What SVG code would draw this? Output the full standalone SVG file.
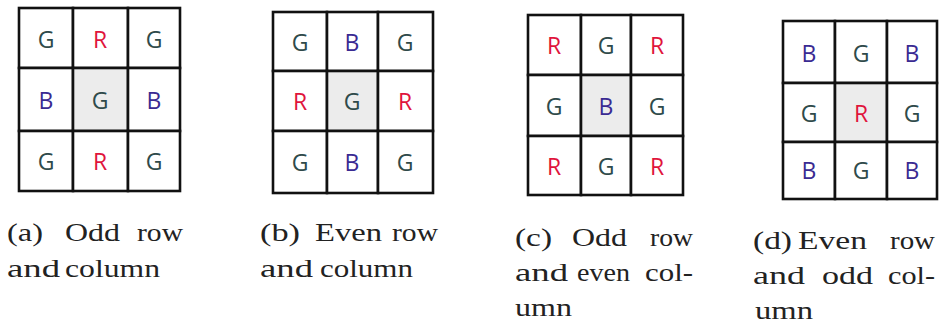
<svg xmlns="http://www.w3.org/2000/svg" width="949" height="327" viewBox="0 0 949 327">
<style>
.c{fill:#ffffff;stroke:#111;stroke-width:2.6}
.m{fill:#ececec;stroke:#111;stroke-width:2.6}
.L{font-family:"Open Sans","Noto Sans",sans-serif;font-size:23px;font-weight:500;text-anchor:middle;dominant-baseline:central}
.G{fill:#2f4a4a}.R{fill:#e0143c}.B{fill:#3a2a92}
.cap{font-family:"Liberation Serif","Times New Roman",serif;font-size:25px;fill:#222}
</style>
<rect width="949" height="327" fill="#ffffff"/>
<g id="grid-a">
<rect class="c" x="19" y="8" width="54" height="60"/><rect class="c" x="73" y="8" width="55" height="60"/><rect class="c" x="128" y="8" width="52" height="60"/>
<rect class="c" x="19" y="68" width="54" height="63"/><rect class="m" x="73" y="68" width="55" height="63"/><rect class="c" x="128" y="68" width="52" height="63"/>
<rect class="c" x="19" y="131" width="54" height="60"/><rect class="c" x="73" y="131" width="55" height="60"/><rect class="c" x="128" y="131" width="52" height="60"/>
<text class="L G" x="46" y="39">G</text><text class="L R" x="100" y="39">R</text><text class="L G" x="154" y="39">G</text>
<text class="L B" x="46" y="100">B</text><text class="L G" x="100" y="100">G</text><text class="L B" x="154" y="100">B</text>
<text class="L G" x="46" y="161">G</text><text class="L R" x="100" y="161">R</text><text class="L G" x="154" y="161">G</text>
</g>
<g id="grid-b">
<rect class="c" x="273" y="12" width="54" height="59"/><rect class="c" x="327" y="12" width="51" height="59"/><rect class="c" x="378" y="12" width="55" height="59"/>
<rect class="c" x="273" y="71" width="54" height="60"/><rect class="m" x="327" y="71" width="51" height="60"/><rect class="c" x="378" y="71" width="55" height="60"/>
<rect class="c" x="273" y="131" width="54" height="62"/><rect class="c" x="327" y="131" width="51" height="62"/><rect class="c" x="378" y="131" width="55" height="62"/>
<text class="L G" x="300" y="42">G</text><text class="L B" x="352" y="42">B</text><text class="L G" x="405" y="42">G</text>
<text class="L R" x="300" y="101">R</text><text class="L G" x="352" y="101">G</text><text class="L R" x="405" y="101">R</text>
<text class="L G" x="300" y="162">G</text><text class="L B" x="352" y="162">B</text><text class="L G" x="405" y="162">G</text>
</g>
<g id="grid-c">
<rect class="c" x="528" y="15" width="53" height="60"/><rect class="c" x="581" y="15" width="50" height="60"/><rect class="c" x="631" y="15" width="52" height="60"/>
<rect class="c" x="528" y="75" width="53" height="61"/><rect class="m" x="581" y="75" width="50" height="61"/><rect class="c" x="631" y="75" width="52" height="61"/>
<rect class="c" x="528" y="136" width="53" height="59"/><rect class="c" x="581" y="136" width="50" height="59"/><rect class="c" x="631" y="136" width="52" height="59"/>
<text class="L R" x="554" y="45">R</text><text class="L G" x="606" y="45">G</text><text class="L R" x="657" y="45">R</text>
<text class="L G" x="554" y="106">G</text><text class="L B" x="606" y="106">B</text><text class="L G" x="657" y="106">G</text>
<text class="L R" x="554" y="166">R</text><text class="L G" x="606" y="166">G</text><text class="L R" x="657" y="166">R</text>
</g>
<g id="grid-d">
<rect class="c" x="783" y="21" width="52" height="62"/><rect class="c" x="835" y="21" width="52" height="62"/><rect class="c" x="887" y="21" width="50" height="62"/>
<rect class="c" x="783" y="83" width="52" height="59"/><rect class="m" x="835" y="83" width="52" height="59"/><rect class="c" x="887" y="83" width="50" height="59"/>
<rect class="c" x="783" y="142" width="52" height="57"/><rect class="c" x="835" y="142" width="52" height="57"/><rect class="c" x="887" y="142" width="50" height="57"/>
<text class="L B" x="809" y="53">B</text><text class="L G" x="861" y="53">G</text><text class="L B" x="912" y="53">B</text>
<text class="L G" x="809" y="113">G</text><text class="L R" x="861" y="113">R</text><text class="L G" x="912" y="113">G</text>
<text class="L B" x="809" y="170">B</text><text class="L G" x="861" y="170">G</text><text class="L B" x="912" y="170">B</text>
</g>
<g id="caption-a" class="cap">
<text x="7" y="241" textLength="36" lengthAdjust="spacingAndGlyphs">(a)</text>
<text x="65" y="241" textLength="55" lengthAdjust="spacingAndGlyphs">Odd</text>
<text x="137" y="241" textLength="46" lengthAdjust="spacingAndGlyphs">row</text>
<text x="7" y="277" textLength="53" lengthAdjust="spacingAndGlyphs">and</text>
<text x="65" y="277" textLength="95" lengthAdjust="spacingAndGlyphs">column</text>
</g>
<g id="caption-b" class="cap">
<text x="260" y="241" textLength="40" lengthAdjust="spacingAndGlyphs">(b)</text>
<text x="315" y="241" textLength="67" lengthAdjust="spacingAndGlyphs">Even</text>
<text x="392" y="241" textLength="46" lengthAdjust="spacingAndGlyphs">row</text>
<text x="260" y="277" textLength="53" lengthAdjust="spacingAndGlyphs">and</text>
<text x="320" y="277" textLength="93" lengthAdjust="spacingAndGlyphs">column</text>
</g>
<g id="caption-c" class="cap">
<text x="515" y="246" textLength="37" lengthAdjust="spacingAndGlyphs">(c)</text>
<text x="572" y="246" textLength="55" lengthAdjust="spacingAndGlyphs">Odd</text>
<text x="650" y="246" textLength="43" lengthAdjust="spacingAndGlyphs">row</text>
<text x="515" y="281" textLength="53" lengthAdjust="spacingAndGlyphs">and</text>
<text x="577" y="281" textLength="53" lengthAdjust="spacingAndGlyphs">even</text>
<text x="645" y="281" textLength="48" lengthAdjust="spacingAndGlyphs">col-</text>
<text x="515" y="316" textLength="57" lengthAdjust="spacingAndGlyphs">umn</text>
</g>
<g id="caption-d" class="cap">
<text x="753" y="249" textLength="39" lengthAdjust="spacingAndGlyphs">(d)</text>
<text x="798" y="249" textLength="69" lengthAdjust="spacingAndGlyphs">Even</text>
<text x="890" y="249" textLength="45" lengthAdjust="spacingAndGlyphs">row</text>
<text x="753" y="284" textLength="52" lengthAdjust="spacingAndGlyphs">and</text>
<text x="822" y="284" textLength="51" lengthAdjust="spacingAndGlyphs">odd</text>
<text x="888" y="284" textLength="47" lengthAdjust="spacingAndGlyphs">col-</text>
<text x="755" y="319" textLength="58" lengthAdjust="spacingAndGlyphs">umn</text>
</g>
<g id="connectors"/>
</svg>
